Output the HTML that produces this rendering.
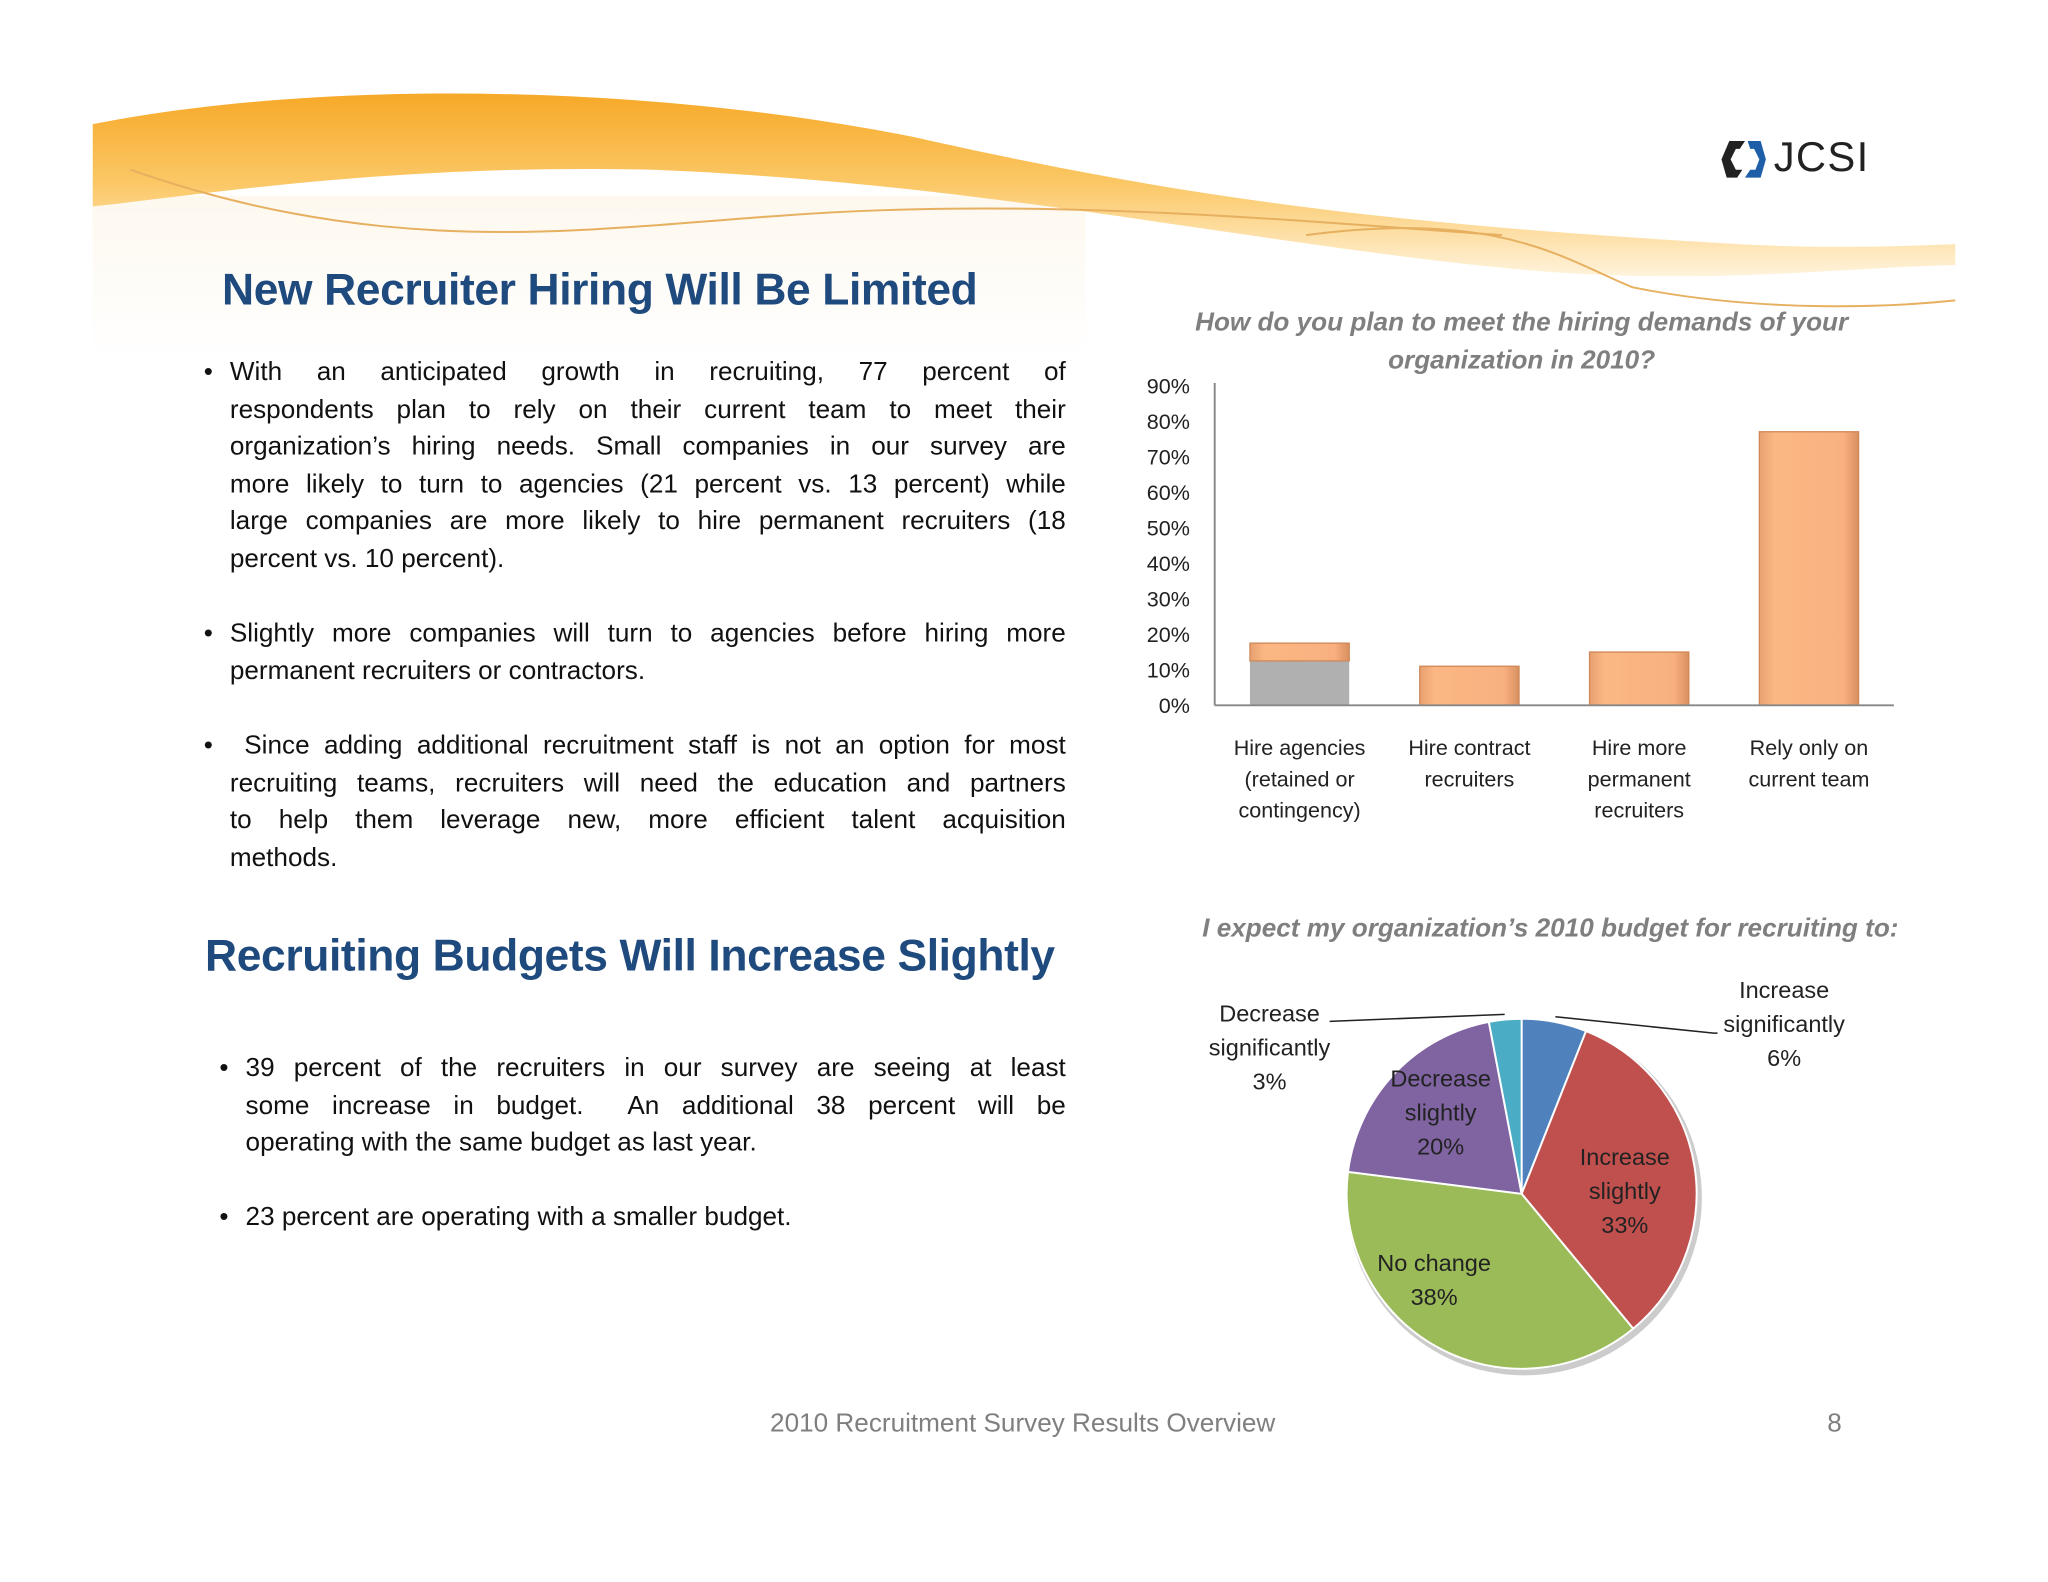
<!DOCTYPE html>
<html><head><meta charset="utf-8">
<style>
html,body{margin:0;padding:0;background:#fff;}
body{width:2048px;height:1582px;overflow:hidden;position:relative;}
#stage{position:absolute;left:0;top:0;width:1568px;height:1211px;transform:scale(1.30612);transform-origin:0 0;font-family:"Liberation Sans",sans-serif;}
.abs{position:absolute;}
.h1{color:#1f4a7e;font-weight:bold;font-size:34px;letter-spacing:-0.3px;white-space:nowrap;}
.body{font-size:20px;line-height:28.6px;color:#111;}
.body .l{white-space:nowrap;text-align:justify;text-align-last:justify;}
.body .e{white-space:nowrap;}
.bul{position:absolute;}
.ctitle{color:#7f7f7f;font-style:italic;font-weight:bold;font-size:20px;text-align:center;line-height:28.5px;}
</style></head><body>
<div id="stage">
<svg class="abs" style="left:0;top:0" width="1568" height="300">
<defs>
<linearGradient id="sw" x1="0" y1="0" x2="0" y2="1"><stop offset="0" stop-color="#f7a928"/><stop offset="0.5" stop-color="#fbc867"/><stop offset="1" stop-color="#fff3dc"/></linearGradient>
<linearGradient id="fade" x1="0" y1="0" x2="0" y2="1"><stop offset="0" stop-color="#fdf4e4"/><stop offset="1" stop-color="#ffffff"/></linearGradient>
</defs>
<rect x="71" y="150" width="760" height="125" fill="url(#fade)" opacity="0.6"/>
<path d="M71,95 C250,60 500,65 700,105 C900,150 1050,170 1300,185 C1400,192 1460,188 1497,187 L1497,203 C1400,205 1300,220 1150,205 C950,185 750,140 500,130 C300,125 150,150 71,158 Z" fill="url(#sw)"/>
<path d="M100,130 C300,200 450,175 600,165 C800,150 1000,170 1150,180" stroke="#e6b060" stroke-width="1.5" fill="none"/>
<path d="M1000,180 C1150,160 1200,200 1250,220 C1350,240 1450,235 1497,230" stroke="#e6b060" stroke-width="1.5" fill="none"/>
</svg>
<div class="abs" style="left:1318px;top:104px;width:135px;height:36px">
<svg width="40" height="36" class="abs" style="left:0;top:0"><path d="M6,4 L18,4 L14,10 L11,10 L7,18 L11,26 L16,26 L12,32 L4,32 L0,18 Z" fill="#222"/><path d="M20,4 L30,4 L34,18 L30,32 L18,32 L22,26 L26,26 L29,18 L25,10 L22,10 Z" fill="#1f5fa8"/></svg>
<div class="abs" style="left:40px;top:-2px;font-size:32px;color:#222;letter-spacing:1px">JCSI</div>
</div>

<div class="abs h1" style="left:170px;top:203px">New Recruiter Hiring Will Be Limited</div>
<div class="abs body" style="left:176px;top:271px;width:640px">
<div style="position:relative"><span class="bul" style="left:-20px">•</span>
<div class="l">With an anticipated growth in recruiting, 77 percent of</div>
<div class="l">respondents plan to rely on their current team to meet their</div>
<div class="l">organization’s hiring needs. Small companies in our survey are</div>
<div class="l">more likely to turn to agencies (21 percent vs. 13 percent) while</div>
<div class="l">large companies are more likely to hire permanent recruiters (18</div>
<div class="e">percent vs. 10 percent).</div></div>
<div style="position:relative;margin-top:28.6px"><span class="bul" style="left:-20px">•</span>
<div class="l">Slightly more companies will turn to agencies before hiring more</div>
<div class="e">permanent recruiters or contractors.</div></div>
<div style="position:relative;margin-top:28.6px"><span class="bul" style="left:-20px">•</span>
<div class="l">&nbsp;Since adding additional recruitment staff is not an option for most</div>
<div class="l">recruiting teams, recruiters will need the education and partners</div>
<div class="l">to help them leverage new, more efficient talent acquisition</div>
<div class="e">methods.</div></div>
</div>

<div class="abs h1" style="left:157px;top:713px">Recruiting Budgets Will Increase Slightly</div>
<div class="abs body" style="left:188px;top:804px;width:628px">
<div style="position:relative"><span class="bul" style="left:-20px">•</span>
<div class="l">39 percent of the recruiters in our survey are seeing at least</div>
<div class="l">some increase in budget.&nbsp; An additional 38 percent will be</div>
<div class="e">operating with the same budget as last year.</div></div>
<div style="position:relative;margin-top:28.6px"><span class="bul" style="left:-20px">•</span>23 percent are operating with a smaller budget.</div>
</div>

<div class="abs ctitle" style="left:880px;top:233px;width:570px">How do you plan to meet the hiring demands of your organization in 2010?</div>
<svg id="bar" class="abs" style="left:840px;top:280px" width="640" height="370"></svg>

<div class="abs ctitle" style="left:880px;top:697px;width:614px">I expect my organization’s 2010 budget for recruiting to:</div>
<svg id="pie" class="abs" style="left:900px;top:740px" width="560" height="330"></svg>

<div class="abs" style="left:520px;top:1079px;width:526px;text-align:center;font-size:20px;color:#7f7f7f">2010 Recruitment Survey Results Overview</div>
<div class="abs" style="left:1399px;top:1079px;font-size:20px;color:#7f7f7f">8</div>
</div>
<script>
const barCategories=[["Hire agencies","(retained or","contingency)"],["Hire contract","recruiters"],["Hire more","permanent","recruiters"],["Rely only on","current team"]];
const barValues=[17.5,11,15,77];
const barShadow=[12.5,0,0,0];
const yTicks=[0,10,20,30,40,50,60,70,80,90];
const pieLabels=["Increase significantly","Increase slightly","No change","Decrease slightly","Decrease significantly"];
const pieValues=[6,33,38,20,3];
const pieColors=["#4f81bd","#c0504d","#9bbb59","#8064a2","#4bacc6"];
const NS="http://www.w3.org/2000/svg";
function mk(p,t,a){const e=document.createElementNS(NS,t);for(const k in a)e.setAttribute(k,a[k]);p.appendChild(e);return e;}
const bar=document.getElementById('bar');
const x0=90,y0=260,pxPer=27.2/10,slot=130;
const y=v=>y0-v*pxPer, xc=i=>x0+65+i*slot;
const defs=mk(bar,'defs',{});
const lg=mk(defs,'linearGradient',{id:'bg',x1:0,y1:0,x2:1,y2:0});
mk(lg,'stop',{offset:0,'stop-color':'#e8a070'});mk(lg,'stop',{offset:0.15,'stop-color':'#fbb784'});mk(lg,'stop',{offset:0.85,'stop-color':'#f8b080'});mk(lg,'stop',{offset:1,'stop-color':'#d99060'});
yTicks.forEach(t=>{const e=mk(bar,'text',{x:71,y:y(t)+6,'text-anchor':'end','font-size':16.5,fill:'#222','font-family':'Liberation Sans'});e.textContent=t+'%';

});
barValues.forEach((v,i)=>{
 if(barShadow[i]>0){const s=mk(bar,'rect',{x:xc(i)-38,y:y(barShadow[i]),width:76,height:y0-y(barShadow[i]),fill:'#b0b0b0'});
 
 }
 const top=y(v),h=(barShadow[i]>0?y(barShadow[i]):y0)-top;
 const r=mk(bar,'rect',{x:xc(i)-38,y:top,width:76,height:h,fill:'url(#bg)',stroke:'#d08858','stroke-width':1});
 
 
 barCategories[i].forEach((ln,j)=>{const t=mk(bar,'text',{x:xc(i),y:y0+38+j*24,'text-anchor':'middle','font-size':16.5,fill:'#222','font-family':'Liberation Sans'});t.textContent=ln;
 
 });
});
const ax=mk(bar,'line',{x1:x0,y1:y(90)-2,x2:x0,y2:y0,stroke:'#888','stroke-width':1.5});


const bx=mk(bar,'line',{x1:x0,y1:y0,x2:610,y2:y0,stroke:'#888','stroke-width':1.5});


const pie=document.getElementById('pie');
const cx=265,cy=174,R=134;
const tot=pieValues.reduce((a,b)=>a+b,0);
const pt=(a,r)=>[cx+r*Math.sin(a),cy-r*Math.cos(a)];
mk(pie,'circle',{cx:cx+2,cy:cy+3,r:R+2,fill:'#ccc'});
let acc=0;const mids=[];
pieValues.forEach((v,i)=>{const a0=acc/tot*2*Math.PI;acc+=v;const a1=acc/tot*2*Math.PI;mids.push((a0+a1)/2);
 const p0=pt(a0,R),p1=pt(a1,R);
 const p=mk(pie,'path',{d:`M${cx},${cy} L${p0[0]},${p0[1]} A${R},${R} 0 ${a1-a0>Math.PI?1:0} 1 ${p1[0]},${p1[1]} Z`,fill:pieColors[i],stroke:'#fff','stroke-width':1.5});
 
 });
const lab=(lines,x,yy,name)=>{lines.forEach((l,j)=>{const t=mk(pie,'text',{x:x,y:yy+j*26,'text-anchor':'middle','font-size':18,fill:'#222','font-family':'Liberation Sans'});t.textContent=l;
 
 });};
lab(["Increase","significantly",pieValues[0]+"%"],466,24,'pie-label-increase-significantly');
lab(["Increase","slightly",pieValues[1]+"%"],344,152,'pie-label-increase-slightly');
lab(["No change",pieValues[2]+"%"],198,233,'pie-label-no-change');
lab(["Decrease","slightly",pieValues[3]+"%"],203,92,'pie-label-decrease-slightly');
lab(["Decrease","significantly",pieValues[4]+"%"],72,42,'pie-label-decrease-significantly');
const l1=pt(mids[0],R+4);
const ll=mk(pie,'polyline',{points:`${l1[0]},${l1[1]} 412,51 415,51`,fill:'none',stroke:'#222','stroke-width':1.2});


const l2=pt(mids[4],R+4);
const ll2=mk(pie,'polyline',{points:`${l2[0]},${l2[1]} 118,42`,fill:'none',stroke:'#222','stroke-width':1.2});


</script>
</body></html>
